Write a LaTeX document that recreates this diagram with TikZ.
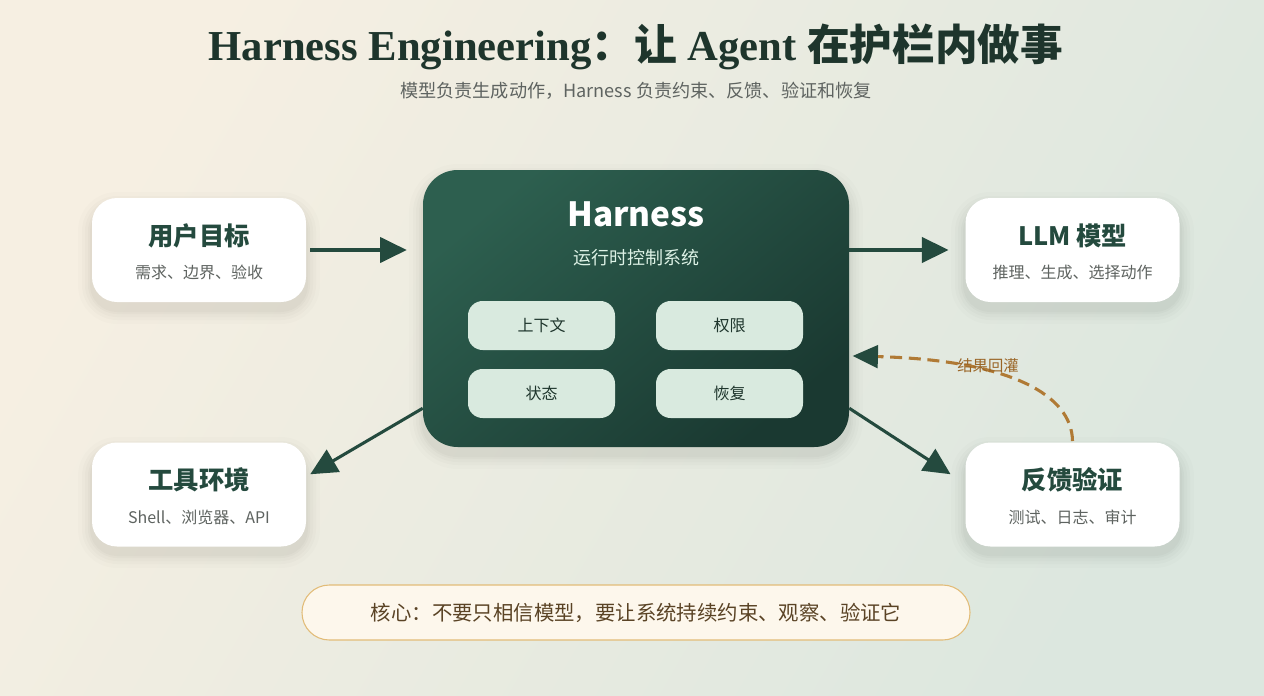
\documentclass[tikz,border=0pt]{standalone}
\usepackage{fontspec}
\setmainfont{Liberation Serif}
\newfontfamily\cjk{Noto Sans CJK SC}
\usetikzlibrary{arrows.meta,calc}
\definecolor{bgA}{HTML}{F6EFE2}
\definecolor{bgB}{HTML}{DCE7DF}
\definecolor{hA}{HTML}{2D5F4F}
\definecolor{hB}{HTML}{1A3931}
\definecolor{dkg}{HTML}{244A3E}
\definecolor{ttl}{HTML}{1E352C}
\definecolor{gry}{HTML}{5E6360}
\definecolor{mint}{HTML}{D9EADF}
\definecolor{mintt}{HTML}{DDF2E6}
\definecolor{brn}{HTML}{B07A35}
\definecolor{brnt}{HTML}{9A6526}
\definecolor{banf}{HTML}{FDF7EC}
\definecolor{band}{HTML}{E2BC78}
\definecolor{bant}{HTML}{5A4325}
\tikzset{
  x=0.75pt, y=-0.75pt,
  side/.style={fill=white, rounded corners=18.75pt, minimum width=160.5pt, minimum height=78pt, inner sep=0pt},
  inner/.style={fill=mint, rounded corners=11pt, minimum width=110.25pt, minimum height=36.75pt, inner sep=0pt, font=\cjk\fontsize{12}{14}\selectfont, text=ttl},
  btitle/.style={font=\cjk\bfseries\fontsize{19}{21}\selectfont, text=dkg, inner sep=0pt},
  bsub/.style={font=\cjk\fontsize{12}{14}\selectfont, text=gry, inner sep=0pt},
  arr/.style={draw=dkg, line width=2.3pt, -{Triangle[length=20pt,width=19pt]}},
}
\newcommand{\softsh}[5]{% x1 y1 x2 y2 radius(pt)
  \foreach \k/\o in {14/0.012,10/0.014,7/0.016,4/0.018,2/0.02}{
    \fill[black, opacity=\o, rounded corners=#5+\k*0.75pt] ($(#1,#2)+(-\k,-\k+8)$) rectangle ($(#3,#4)+(\k,\k+8)$);
  }}
\begin{document}
\begin{tikzpicture}
\shade[shading=axis, top color=bgA, bottom color=bgB, shading angle=60] (0,0) rectangle (1264,696);
\useasboundingbox (0,0) rectangle (1264,696);

% title
\node[text=ttl, inner sep=0pt] (title) at (636,47) {\fontsize{32}{35}\selectfont\bfseries Harness Engineering{\cjk：让} Agent {\cjk 在护栏内做事}};
\node[text=gry, inner sep=0pt, font=\cjk\fontsize{13.6}{15}\selectfont] (sub) at (636,91) {模型负责生成动作，Harness 负责约束、反馈、验证和恢复};

% shadows
\softsh{92}{198}{306}{302}{18.75pt}
\softsh{965}{198}{1180}{302}{18.75pt}
\softsh{92}{443}{306}{546}{18.75pt}
\softsh{965}{443}{1180}{546}{18.75pt}
\softsh{423}{170}{849}{447}{26pt}

% center box
\shade[shading=axis, top color=hA, bottom color=hB, shading angle=40, rounded corners=26pt] (423,170) rectangle (849,447);
\node[minimum width=319.5pt, minimum height=207.75pt, inner sep=0pt] (h) at (636,308.5) {};
\node[text=white, inner sep=0pt, font=\cjk\bfseries\fontsize{25}{28}\selectfont] (htitle) at (636,214) {Harness};
\node[text=mintt, inner sep=0pt, font=\cjk\fontsize{13.5}{15}\selectfont] (hsub) at (636,258) {运行时控制系统};
\node[inner] (c1) at (541.5,325.5) {上下文};
\node[inner] (c2) at (729.5,325.5) {权限};
\node[inner] (c3) at (541.5,393.5) {状态};
\node[inner] (c4) at (729.5,393.5) {恢复};

% side boxes
\node[side] (u) at (199,250) {};
\node[btitle] (ut) at (199,236) {用户目标};
\node[bsub] (us) at (199,272) {需求、边界、验收};
\node[side] (l) at (1072.5,250) {};
\node[btitle] (lt) at (1072.5,236) {LLM 模型};
\node[bsub] (ls) at (1072.5,272) {推理、生成、选择动作};
\node[side] (t) at (199,494.5) {};
\node[btitle] (tt) at (199,480) {工具环境};
\node[bsub] (ts) at (199,517) {Shell、浏览器、API};
\node[side] (f) at (1072.5,494.5) {};
\node[btitle] (ft) at (1072.5,480) {反馈验证};
\node[bsub] (fs) at (1072.5,517) {测试、日志、审计};

% connectors
\draw[arr, shorten <=3pt, shorten >=12pt] (u.east) -- (u.east -| h.west);
\draw[arr, shorten >=12.5pt] (l.west -| h.east) -- (l.west);
\draw[arr] ([yshift=29.25pt]h.south west) -- ([xshift=3pt,yshift=-24pt]t.north east);
\draw[arr] ([yshift=29.25pt]h.south east) -- ([xshift=-11pt,yshift=-24pt]f.north west);
\coordinate (fb) at (1072.5,441);
\draw[draw=brn, line width=2.3pt, dash pattern=on 9pt off 5pt, -{Triangle[length=19pt,width=17pt,color=dkg,fill=dkg]}]
  (fb) .. controls (1072,395) and (1010,360) .. ([xshift=2.5pt,yshift=-35.6pt]h.east);
\node[text=brnt, inner sep=0pt, font=\cjk\fontsize{11.5}{13}\selectfont] (fbl) at (988,366) {结果回灌};

% banner
\node[fill=banf, draw=band, line width=0.8pt, rounded corners=20.5pt, minimum width=501pt, minimum height=41.25pt, inner sep=0pt, text=bant, font=\cjk\fontsize{15.3}{17}\selectfont] (ban) at (636,612.5) {核心：不要只相信模型，要让系统持续约束、观察、验证它};
\end{tikzpicture}
\end{document}
